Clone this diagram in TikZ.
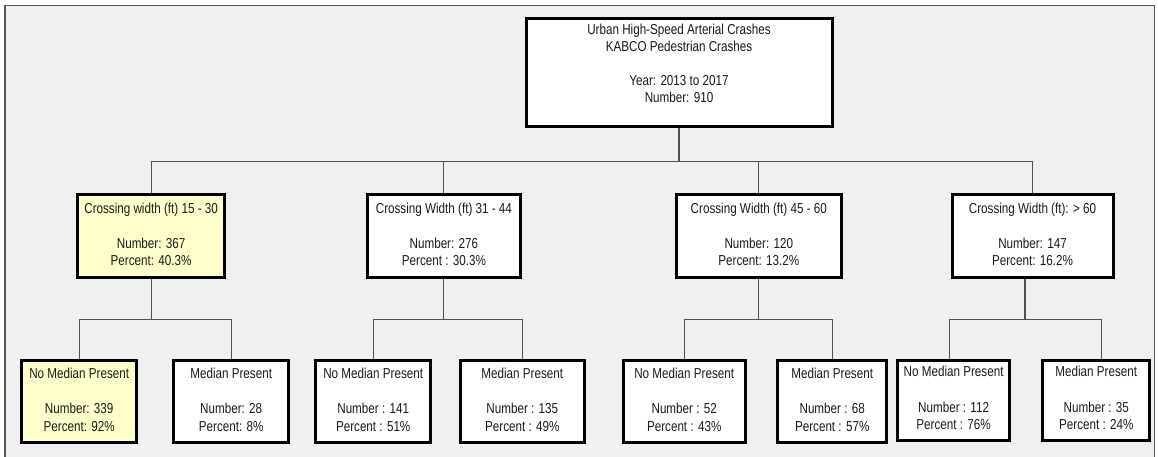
\documentclass[tikz,border=0pt]{standalone}
\usepackage{fontspec}
\setmainfont{Liberation Sans}[FakeStretch=0.81]
\definecolor{bggray}{HTML}{F0F0F0}
\definecolor{framegray}{HTML}{555555}
\definecolor{conngray}{HTML}{505050}
\definecolor{hlyellow}{HTML}{FFFFCC}
\definecolor{txtcol}{HTML}{1A1A1A}
\begin{document}
\begin{tikzpicture}[x=1pt,y=-1pt,
  box/.style={draw=black, line width=3pt, fill=white, inner sep=0pt},
  hlbox/.style={box, fill=hlyellow},
  lone/.style={minimum height=82.4pt},
  ltwo/.style={minimum height=82pt},
  txt/.style={align=center, inner sep=0pt, text=txtcol, font=\fontsize{14.4}{17.3}\selectfont},
  conn/.style={draw=conngray, line width=1.1pt}
]
\useasboundingbox (0,0) rectangle (1158,456);
\fill[white] (0,0) rectangle (1158,456);
\draw[framegray, line width=1.3pt, fill=bggray] (5,5.3) rectangle (1154.3,462);

% root
\node[box, minimum width=306pt, minimum height=107.7pt] (root) at (679,72.7) {};
\node[txt, font=\fontsize{14.4}{17}\selectfont] (troot) at (679,63.6)
  {Urban High-Speed Arterial Crashes\\KABCO Pedestrian Crashes\\[17pt]Year: 2013 to 2017\\Number: 910};

% level 1
\node[hlbox, lone, minimum width=147.6pt] (l1a) at (151.1,236) {};
\node[box, lone, minimum width=153.8pt] (l1b) at (443.9,236) {};
\node[box, lone, minimum width=164.4pt] (l1c) at (758.8,236) {};
\node[box, lone, minimum width=161pt] (l1d) at (1032.5,236) {};

\node[txt] (tl1a) at ([yshift=1.5pt]l1a.center) {Crossing width (ft) 15 - 30\\[17.2pt]Number: 367\\Percent: 40.3\%};
\node[txt] (tl1b) at ([yshift=1.5pt]l1b.center) {Crossing Width (ft) 31 - 44\\[17.2pt]Number: 276\\Percent : 30.3\%};
\node[txt] (tl1c) at ([yshift=1.5pt]l1c.center) {Crossing Width (ft) 45 - 60\\[17.2pt]Number: 120\\Percent: 13.2\%};
\node[txt] (tl1d) at ([yshift=1.5pt]l1d.center) {Crossing Width (ft): > 60\\[17.2pt]Number: 147\\Percent: 16.2\%};

% level 2
\node[hlbox, ltwo, minimum width=115.5pt] (l2a) at (79.2,401.8) {};
\node[box, ltwo, minimum width=115.4pt] (l2b) at (231.2,401.8) {};
\node[box, ltwo, minimum width=114.6pt] (l2c) at (373.2,401.8) {};
\node[box, ltwo, minimum width=123.8pt] (l2d) at (522.3,401.8) {};
\node[box, ltwo, minimum width=121.9pt] (l2e) at (684.2,401.8) {};
\node[box, ltwo, minimum width=109.1pt] (l2f) at (832.2,401.8) {};
\node[box, minimum height=80pt, minimum width=112.4pt] (l2g) at (953.6,400) {};
\node[box, minimum height=80pt, minimum width=107pt] (l2h) at (1096.3,400) {};

\node[txt] (tl2a) at ([yshift=2pt]l2a.center) {No Median Present\\[18pt]Number: 339\\Percent: 92\%};
\node[txt] (tl2b) at ([yshift=2pt]l2b.center) {Median Present\\[18pt]Number: 28\\Percent: 8\%};
\node[txt] (tl2c) at ([yshift=2pt]l2c.center) {No Median Present\\[18pt]Number : 141\\Percent : 51\%};
\node[txt] (tl2d) at ([yshift=2pt]l2d.center) {Median Present\\[18pt]Number : 135\\Percent : 49\%};
\node[txt] (tl2e) at ([yshift=2pt]l2e.center) {No Median Present\\[18pt]Number : 52\\Percent : 43\%};
\node[txt] (tl2f) at ([yshift=2pt]l2f.center) {Median Present\\[18pt]Number : 68\\Percent : 57\%};
\node[txt] (tl2g) at ([yshift=2pt]l2g.center) {No Median Present\\[18pt]Number : 112\\Percent : 76\%};
\node[txt] (tl2h) at ([yshift=2pt]l2h.center) {Median Present\\[18pt]Number : 35\\Percent : 24\%};

% connectors root -> level 1
\draw[conn] (root.south) -- ++(0,33.7) coordinate (b1);
\draw[conn] (l1a.north) |- (b1) -| (l1d.north);
\draw[conn] (l1b.north) -- (l1b.north |- b1);
\draw[conn] (l1c.north) -- (l1c.north |- b1);

% level 1 -> level 2
\draw[conn] (l1a.south) -- ++(0,40.8) coordinate (b2a);
\draw[conn] (l2a.north) |- (b2a) -| (l2b.north);
\draw[conn] (l1b.south) -- ++(0,40.8) coordinate (b2b);
\draw[conn] (l2c.north) |- (b2b) -| (l2d.north);
\draw[conn] (l1c.south) -- ++(0,40.8) coordinate (b2c);
\draw[conn] (l2e.north) |- (b2c) -| (l2f.north);
\draw[conn, line width=1.6pt] ([xshift=-7.8pt]l1d.south) -- ++(0,40.5) coordinate (b2d);
\draw[conn] ([xshift=-3.9pt]l2g.north) |- (b2d) -| ([xshift=5pt]l2h.north);
\end{tikzpicture}
\end{document}
